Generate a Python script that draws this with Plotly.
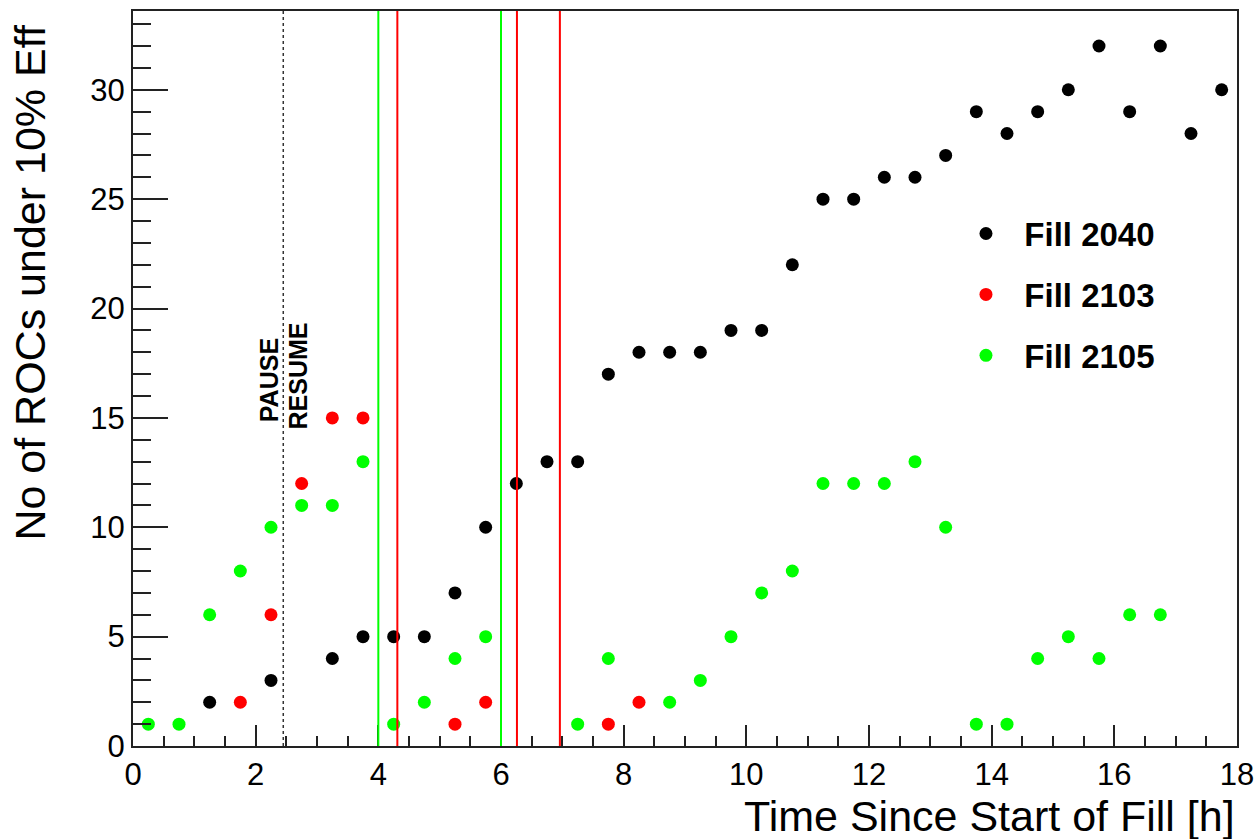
import plotly.graph_objects as go

# ---- data ----
x_2040 = [1.25, 2.25, 3.25, 3.75, 4.25, 4.75, 5.25, 5.75, 6.25, 6.75, 7.25, 7.75, 8.25, 8.75,
          9.25, 9.75, 10.25, 10.75, 11.25, 11.75, 12.25, 12.75, 13.25, 13.75, 14.25, 14.75,
          15.25, 15.75, 16.25, 16.75, 17.25, 17.75]
y_2040 = [2, 3, 4, 5, 5, 5, 7, 10, 12, 13, 13, 17, 18, 18,
          18, 19, 19, 22, 25, 25, 26, 26, 27, 29, 28, 29,
          30, 32, 29, 32, 28, 30]

x_2103 = [1.75, 2.25, 2.75, 3.25, 3.75, 5.25, 5.75, 7.75, 8.25]
y_2103 = [2, 6, 12, 15, 15, 1, 2, 1, 2]

x_2105 = [0.25, 0.75, 1.25, 1.75, 2.25, 2.75, 3.25, 3.75, 4.25, 4.75, 5.25, 5.75, 7.25, 7.75,
          8.75, 9.25, 9.75, 10.25, 10.75, 11.25, 11.75, 12.25, 12.75, 13.25, 13.75, 14.25,
          14.75, 15.25, 15.75, 16.25, 16.75]
y_2105 = [1, 1, 6, 8, 10, 11, 11, 13, 1, 2, 4, 5, 1, 4,
          2, 3, 5, 7, 8, 12, 12, 12, 13, 10, 1, 1,
          4, 5, 4, 6, 6]

pause_x = [2.45]
green_lines_x = [4.0, 6.0]
red_lines_x = [4.31, 6.26, 6.96]

x_range = [0, 18]
y_range = [0, 33.6]

FONT = "Liberation Sans, Arial, sans-serif"
NB = "\u00a0\u00a0"

fig = go.Figure()
series = [("Fill 2040", x_2040, y_2040, "#000000"),
          ("Fill 2103", x_2103, y_2103, "#ff0000"),
          ("Fill 2105", x_2105, y_2105, "#00ff00")]
for name, xs, ys, col in series:
    fig.add_trace(go.Scatter(x=xs, y=ys, mode="markers", name=NB + name, legendgroup=name,
                             marker=dict(symbol="circle", size=13, color=col,
                                         line=dict(width=0))))

shapes = []
for xv in pause_x:
    shapes.append(dict(type="line", xref="x", yref="paper", x0=xv, x1=xv, y0=0, y1=1,
                       line=dict(color="#333333", width=1.5, dash="dot")))
for xv in green_lines_x:
    shapes.append(dict(type="line", xref="x", yref="paper", x0=xv, x1=xv, y0=0, y1=1,
                       line=dict(color="#00ff00", width=2)))
for xv in red_lines_x:
    shapes.append(dict(type="line", xref="x", yref="paper", x0=xv, x1=xv, y0=0, y1=1,
                       line=dict(color="#ff0000", width=2)))

annotations = [
    dict(text="Time Since Start of Fill [h]", xref="paper", yref="paper", x=1.0, y=-0.0605,
         xanchor="right", yanchor="top", showarrow=False,
         font=dict(family=FONT, size=43, color="black")),
    dict(text="No of ROCs under 10% Eff", xref="paper", yref="paper", x=-0.117, y=0.986,
         xanchor="left", yanchor="top", textangle=-90, showarrow=False,
         font=dict(family=FONT, size=43, color="black")),
    dict(text="<b>PAUSE</b>", xref="x", yref="y", x=2.23, y=14.7,
         xanchor="center", yanchor="bottom", textangle=-90, showarrow=False,
         font=dict(family=FONT, size=25, color="black")),
    dict(text="<b>RESUME</b>", xref="x", yref="y", x=2.69, y=14.4,
         xanchor="center", yanchor="bottom", textangle=-90, showarrow=False,
         font=dict(family=FONT, size=25, color="black")),
]

fig.update_layout(
    width=1258, height=839,
    margin=dict(l=133, r=21, t=11, b=93, autoexpand=False),
    paper_bgcolor="white", plot_bgcolor="white",
    shapes=shapes, annotations=annotations,
    showlegend=True,
    legend=dict(x=0.7545, y=0.7353, xanchor="left", yanchor="top",
                bgcolor="rgba(0,0,0,0)", borderwidth=0,
                traceorder="grouped", tracegroupgap=15,
                font=dict(family=FONT, size=33, color="black", weight="bold")),
    xaxis=dict(range=x_range, dtick=2, tick0=0, showgrid=False, zeroline=False,
               automargin=False,
               showline=True, linecolor="#222222", linewidth=2, mirror=True,
               ticks="inside", ticklen=21, tickwidth=2, tickcolor="#222222",
               minor=dict(dtick=0.5, ticks="inside", ticklen=10, tickwidth=2,
                          tickcolor="#222222", showgrid=False),
               tickfont=dict(family=FONT, size=31, color="black")),
    yaxis=dict(range=y_range, dtick=5, tick0=0, showgrid=False, zeroline=False,
               automargin=False,
               showline=True, linecolor="#222222", linewidth=2, mirror=True,
               ticks="inside", ticklen=35, tickwidth=2, tickcolor="#222222",
               minor=dict(dtick=1, ticks="inside", ticklen=18, tickwidth=2,
                          tickcolor="#222222", showgrid=False),
               tickfont=dict(family=FONT, size=31, color="black")),
)

fig.write_html("out.html")
